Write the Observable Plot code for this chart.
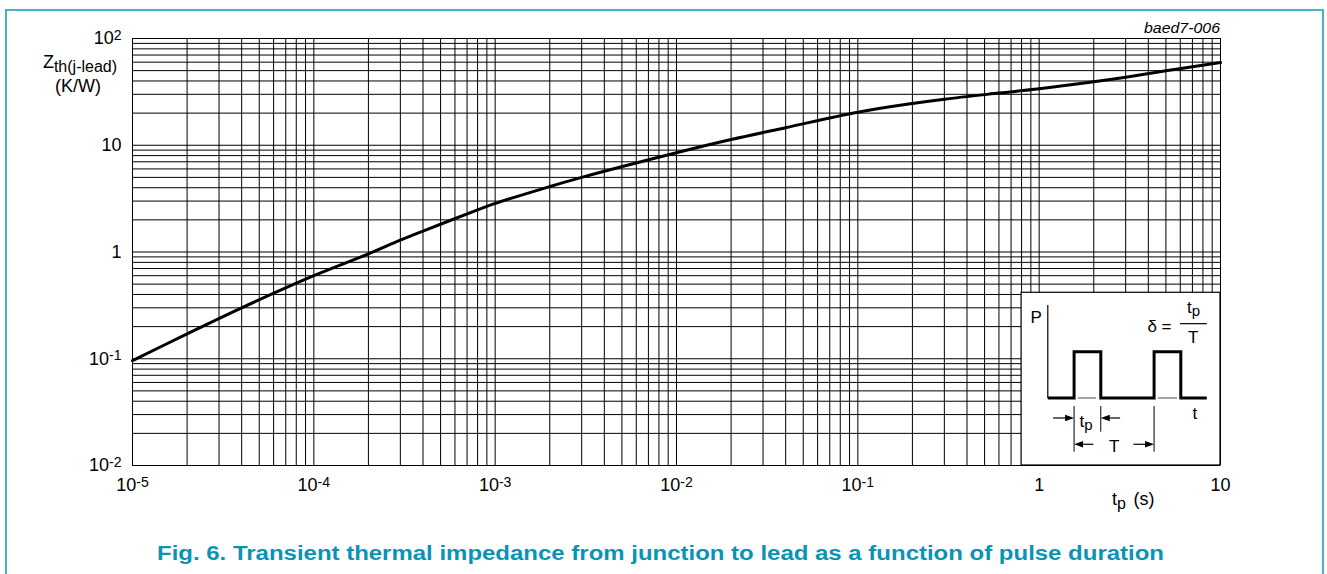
<!DOCTYPE html>
<html>
<head>
<meta charset="utf-8">
<script src="https://cdn.jsdelivr.net/npm/d3@7"></script>
<script src="https://cdn.jsdelivr.net/npm/@observablehq/plot@0.6"></script>
<style>
  html, body { margin: 0; padding: 0; background: #fff; }
  #wrap { position: relative; width: 1327px; height: 574px; overflow: hidden; font-family: "Liberation Sans", Arial, sans-serif; }
  #frame { position: absolute; left: 5px; top: 9px; width: 1319px; height: 620px; border: 2px solid #45b3c8; box-sizing: border-box; }
  #chart { position: absolute; left: 0; top: 0; }
  #title { position: absolute; left: 0; top: 520px; }
</style>
</head>
<body>
<div id="wrap">
  <div id="frame"></div>
  <div id="chart"></div>
  <div id="title"></div>
</div>
<script>
// ---- data ----
const tp  = [1e-5, 2e-5, 4e-5, 1e-4, 2e-4, 3e-4, 4e-4, 8e-4, 1e-3, 2e-3, 3e-3, 1e-2, 2e-2, 4e-2, 1e-1, 2e-1, 3e-1, 6e-1, 1, 2, 3, 5, 10];
const zth = [0.096, 0.171, 0.30, 0.60, 0.96, 1.29, 1.57, 2.48, 2.85, 4.10, 5.00, 8.5, 11.3, 14.6, 20.4, 24.6, 27.0, 30.8, 33.8, 39.3, 43.4, 49.8, 59.6];

const xTicks = [1e-5, 1e-4, 1e-3, 1e-2, 1e-1, 1, 10];
const xTickLabels = ["10^-5", "10^-4", "10^-3", "10^-2", "10^-1", "1", "10"];
const yTicks = [1e-2, 1e-1, 1, 10, 100];
const yTickLabels = ["10^-2", "10^-1", "1", "10", "10^2"];

const xDecades = [1e-5, 1e-4, 1e-3, 1e-2, 1e-1, 1];
const yDecades = [1e-2, 1e-1, 1, 10];
const multipliers = [1, 2, 3, 4, 5, 6, 7, 8, 9];

const insetBox = [{x1: 0.8, x2: 10, y1: 0.01, y2: 0.415}];

const titleText = "Fig. 6. Transient thermal impedance from junction to lead as a function of pulse duration";
const figId = "baed7-006";

// ---- derived tables ----
const curve = tp.map((t, i) => ({t, z: zth[i]}));
const xGrid = xDecades.flatMap(d => multipliers.map(m => +(d * m).toPrecision(3))).concat([10]);
const yGrid = yDecades.flatMap(d => multipliers.map(m => +(d * m).toPrecision(3))).concat([100]);
const xLab = new Map(xTicks.map((v, i) => [v, xTickLabels[i]]));
const yLab = new Map(yTicks.map((v, i) => [v, yTickLabels[i]]));

const FONT = "Liberation Sans, Arial, sans-serif";

const plot = Plot.plot({
  width: 1327,
  height: 520,
  marginLeft: 132,
  marginRight: 107,
  marginTop: 38,
  marginBottom: 55,
  style: {fontFamily: FONT, fontSize: "18px", color: "#000", background: "transparent", overflow: "visible"},
  x: {type: "log", domain: [1e-5, 10]},
  y: {type: "log", domain: [0.01, 100]},
  marks: [
    Plot.ruleX(xGrid, {stroke: "#000", strokeWidth: 1}),
    Plot.ruleY(yGrid, {stroke: "#000", strokeWidth: 1}),
    Plot.line(curve, {x: "t", y: "z", stroke: "#000", strokeWidth: 3, curve: "catmull-rom"}),
    Plot.rect(insetBox, {x1: "x1", x2: "x2", y1: "y1", y2: "y2", fill: "#fff", stroke: "#000", strokeWidth: 1.2}),
    Plot.axisX({ticks: xTicks, tickFormat: d => xLab.get(d), tickSize: 0, tickPadding: 13, fontSize: 18, label: null}),
    Plot.axisY({ticks: yTicks, tickFormat: d => yLab.get(d), tickSize: 0, tickPadding: 11, fontSize: 18, label: null})
  ]
});
document.getElementById("chart").appendChild(plot);

const NS = "http://www.w3.org/2000/svg";
// superscripts for tick labels
plot.querySelectorAll("text").forEach(t => {
  const m = t.textContent.match(/^(.*)\^(.*)$/);
  if (!m) return;
  t.textContent = "";
  const a = document.createElementNS(NS, "tspan"); a.textContent = m[1]; t.appendChild(a);
  const b = document.createElementNS(NS, "tspan"); b.textContent = m[2];
  b.setAttribute("font-size", "0.78em"); b.setAttribute("dy", "-0.34em"); t.appendChild(b);
});

const svg = d3.select(plot);
const sx = plot.scale("x"), sy = plot.scale("y");

// y-axis title
const yt = svg.append("text").attr("x", 80).attr("y", 68).attr("text-anchor", "middle")
  .attr("font-size", 18).attr("fill", "#000");
yt.append("tspan").text("Z");
yt.append("tspan").text("th(j-lead)").attr("font-size", 16).attr("dy", 4);
svg.append("text").attr("x", 78).attr("y", 92).attr("text-anchor", "middle")
  .attr("font-size", 18).attr("fill", "#000").text("(K/W)");

// x-axis title
const xt = svg.append("text").attr("x", 1119).attr("y", 505).attr("font-size", 18).attr("fill", "#000");
xt.append("tspan").text("t");
xt.append("tspan").text("p").attr("font-size", 16).attr("dy", 4);
xt.append("tspan").text("(s)").attr("x", 1144).attr("dy", -4);

// figure id
svg.append("text").attr("x", sx.apply(10)).attr("y", 33).attr("text-anchor", "end")
  .attr("font-size", 14).attr("font-style", "italic").attr("fill", "#000")
  .attr("textLength", 76).attr("lengthAdjust", "spacingAndGlyphs").text(figId);

// inset diagram (schematic) positioned at the inset box
const bx = sx.apply(insetBox[0].x1), by = sy.apply(insetBox[0].y2);
const g = svg.append("g").attr("transform", `translate(${bx},${by})`).attr("fill", "#000");
const line = d3.line();
g.append("path").attr("d", line([[26.7, 12.7], [26.7, 105.7]])).attr("stroke", "#000").attr("stroke-width", 1.2).attr("fill", "none");
g.append("path").attr("d", line([[26.7,105.7],[53,105.7],[53,59.4],[79.7,59.4],[79.7,105.7],[133,105.7],[133,59.4],[159.7,59.4],[159.7,105.7],[185.7,105.7]]))
  .attr("stroke", "#000").attr("stroke-width", 3).attr("fill", "none").attr("stroke-linejoin", "miter");
g.append("path").attr("d", line([[57,105.7],[75,105.7]])).attr("stroke", "#666").attr("stroke-width", 1.2);
g.append("path").attr("d", line([[137,105.7],[156,105.7]])).attr("stroke", "#666").attr("stroke-width", 1.2);
// markers
[[53,113.7,159.4],[79.7,113.7,139.4],[133,113.7,159.4]].forEach(([x,y1,y2]) =>
  g.append("path").attr("d", line([[x,y1],[x,y2]])).attr("stroke", "#000").attr("stroke-width", 1).attr("fill","none"));
function arrow(x0, x1, y) {
  const dir = Math.sign(x1 - x0), hl = 9, hw = 3.2;
  g.append("path").attr("d", line([[x0, y], [x1 - dir * hl, y]])).attr("stroke", "#000").attr("stroke-width", 1.2).attr("fill","none");
  g.append("path").attr("d", line([[x1, y], [x1 - dir * hl, y - hw], [x1 - dir * hl, y + hw]]) + "Z").attr("fill", "#000");
}
arrow(32, 53, 125.7);
arrow(99, 79.7, 125.7);
arrow(72.3, 53, 152);
arrow(112.3, 133, 152);
// inset texts
const txt = (x, y, s, anchor) => g.append("text").attr("x", x).attr("y", y).attr("font-size", 17).attr("text-anchor", anchor || "start").text(s);
txt(9.5, 31, "P");
txt(171.5, 127, "t");
txt(126.3, 39.5, "δ =");
const t1 = txt(172.5, 21, "", "middle"); t1.append("tspan").text("t"); t1.append("tspan").text("p").attr("font-size", 15).attr("dy", 3);
txt(172, 50.5, "T", "middle");
g.append("path").attr("d", line([[159, 31.4], [185.7, 31.4]])).attr("stroke", "#000").attr("stroke-width", 1.2);
const t2 = txt(58.5, 134.4, ""); t2.append("tspan").text("t"); t2.append("tspan").text("p").attr("font-size", 15).attr("dy", 3);
txt(93, 159.4, "T", "middle");

// title
const tsvg = d3.select("#title").append("svg").attr("width", 1327).attr("height", 54);
tsvg.append("text").attr("x", 660.5).attr("y", 40).attr("text-anchor", "middle")
  .attr("font-family", FONT).attr("font-weight", "bold").attr("font-size", 20).attr("fill", "#0b93b4")
  .attr("textLength", 1007).attr("lengthAdjust", "spacingAndGlyphs").text(titleText);
</script>
</body>
</html>
